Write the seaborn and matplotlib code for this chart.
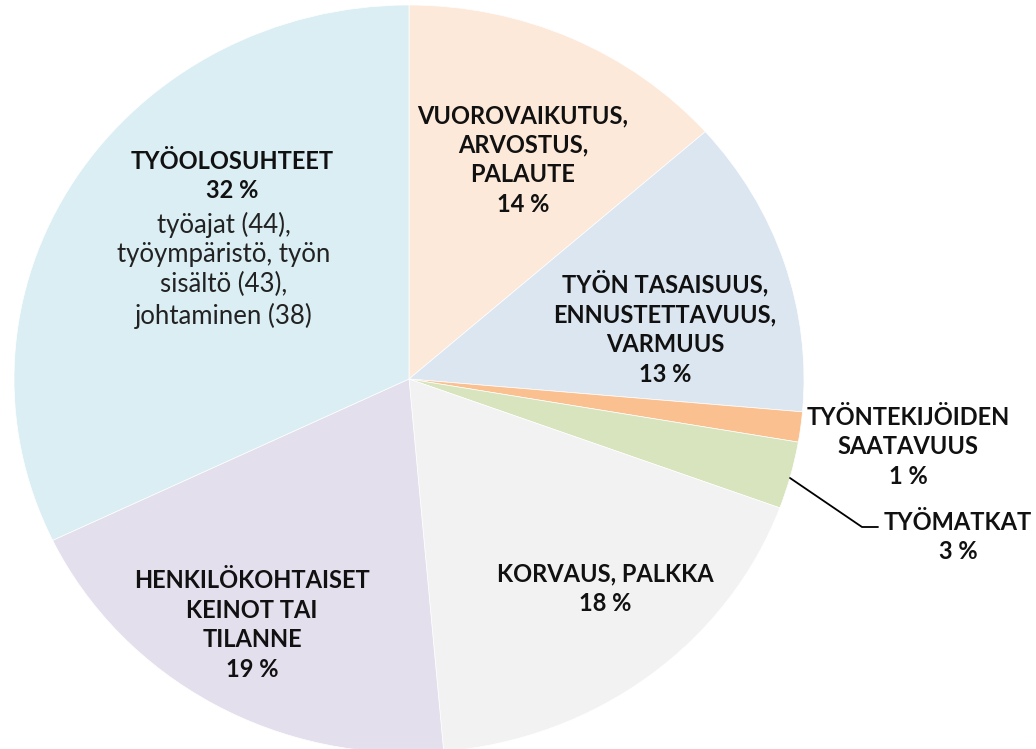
import matplotlib
matplotlib.use("Agg")
import matplotlib.pyplot as plt
import seaborn as sns

# slice shares, clockwise from 12 o'clock
categories = ["VUOROVAIKUTUS,\nARVOSTUS,\nPALAUTE",
              "TYÖN TASAISUUS,\nENNUSTETTAVUUS,\nVARMUUS",
              "TYÖNTEKIJÖIDEN\nSAATAVUUS",
              "TYÖMATKAT",
              "KORVAUS, PALKKA",
              "HENKILÖKOHTAISET\nKEINOT TAI\nTILANNE",
              "TYÖOLOSUHTEET"]
shares = [13.5, 12.9, 1.3, 2.9, 18.0, 19.3, 32.1]
pct_labels = ["14 %", "13 %", "1 %", "3 %", "18 %", "19 %", "32 %"]
detail = "työajat (44),\ntyöympäristö, työn\nsisältö (43),\njohtaminen (38)"
colors = ["#FDE9D9", "#DCE6F1", "#FAC090", "#D7E4BD", "#F2F2F2", "#E4DFEC", "#DAEEF3"]

sns.set_theme(style="white")
plt.rcParams['font.family'] = ['Lato', 'DejaVu Sans']

W, H = 1036, 749
fig = plt.figure(figsize=(W / 100, H / 100), dpi=100)
# pie centre (409, 379) px, radii 395 x 374 px
cx, cy, rx, ry = 409, 379, 395, 374
ax = fig.add_axes([(cx - rx) / W, (H - cy - ry) / H, 2 * rx / W, 2 * ry / H])
ax.pie(shares, colors=colors, startangle=90, counterclock=False,
       wedgeprops=dict(linewidth=0.5, edgecolor="white"))
ax.set_aspect("auto")
ax.set_xlim(-1, 1)
ax.set_ylim(-1, 1)
ax.axis("off")


def px(x, y):
    return (x - cx) / rx, (cy - y) / ry


# label block centres in pixels
label_pos = [(523, 160), (665, 328), (908, 447), (958, 537), (605, 589), (252, 625)]
for i, (x, y) in enumerate(label_pos):
    tx, ty = px(x, y)
    ax.text(tx, ty, categories[i] + "\n" + pct_labels[i], ha="center", va="center",
            fontsize=17, fontweight="bold", color="#111111", linespacing=1.35,
            clip_on=False)

# big slice: bold heading + normal details
tx, ty = px(232, 176)
ax.text(tx, ty, categories[6] + "\n" + pct_labels[6], ha="center", va="center",
        fontsize=17, fontweight="bold", color="#111111", linespacing=1.35)
tx, ty = px(224, 270)
ax.text(tx, ty, detail, ha="center", va="center", fontsize=18.5,
        color="#222222", linespacing=1.24)

# leader line for TYÖMATKAT
lx, ly = zip(*[px(790, 478), px(862, 527), px(878, 527)])
ax.plot(lx, ly, color="black", linewidth=1.3, clip_on=False)

fig.savefig("out.png", dpi=100, facecolor="white")
